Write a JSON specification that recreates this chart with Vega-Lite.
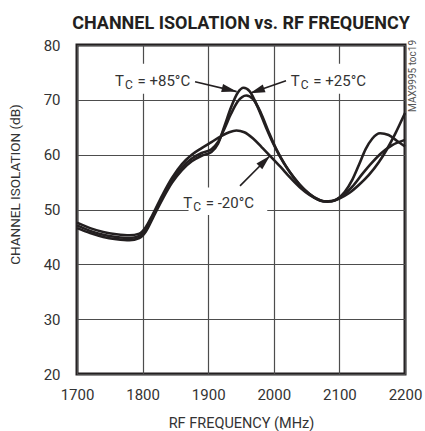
{
  "$schema": "https://vega.github.io/schema/vega-lite/v6.json",
  "width": 328,
  "height": 329,
  "autosize": {"type": "none"},
  "padding": {"left": 77, "top": 45, "right": 20, "bottom": 57},
  "background": "white",
  "config": {
    "font": "Roboto",
    "view": {"stroke": "#231f20", "strokeWidth": 3}
  },
  "title": {
    "text": "CHANNEL ISOLATION vs. RF FREQUENCY",
    "font": "Roboto",
    "fontSize": 18,
    "fontWeight": "bold",
    "color": "#231f20",
    "anchor": "middle",
    "frame": "group",
    "baseline": "alphabetic",
    "offset": 11,
    "dy": 20
  },
  "datasets": {
    "curves": [
      {"temp": "-20", "freq": 1700, "db": 47.6}, {"temp": "-20", "freq": 1720, "db": 46.6}, {"temp": "-20", "freq": 1740, "db": 45.9}, {"temp": "-20", "freq": 1760, "db": 45.5}, {"temp": "-20", "freq": 1780, "db": 45.3}, {"temp": "-20", "freq": 1795, "db": 45.6}, {"temp": "-20", "freq": 1805, "db": 46.8}, {"temp": "-20", "freq": 1815, "db": 49.0}, {"temp": "-20", "freq": 1830, "db": 52.6}, {"temp": "-20", "freq": 1845, "db": 55.8}, {"temp": "-20", "freq": 1860, "db": 58.3}, {"temp": "-20", "freq": 1875, "db": 60.0}, {"temp": "-20", "freq": 1890, "db": 61.2}, {"temp": "-20", "freq": 1905, "db": 62.3}, {"temp": "-20", "freq": 1920, "db": 63.4}, {"temp": "-20", "freq": 1932, "db": 64.1}, {"temp": "-20", "freq": 1943, "db": 64.4}, {"temp": "-20", "freq": 1955, "db": 64.1}, {"temp": "-20", "freq": 1968, "db": 63.0}, {"temp": "-20", "freq": 1982, "db": 61.3}, {"temp": "-20", "freq": 1995, "db": 59.7}, {"temp": "-20", "freq": 2010, "db": 57.8}, {"temp": "-20", "freq": 2025, "db": 55.8}, {"temp": "-20", "freq": 2040, "db": 54.0}, {"temp": "-20", "freq": 2055, "db": 52.6}, {"temp": "-20", "freq": 2070, "db": 51.7}, {"temp": "-20", "freq": 2082, "db": 51.4}, {"temp": "-20", "freq": 2095, "db": 51.8}, {"temp": "-20", "freq": 2108, "db": 53.2}, {"temp": "-20", "freq": 2120, "db": 55.5}, {"temp": "-20", "freq": 2130, "db": 58.2}, {"temp": "-20", "freq": 2140, "db": 61.0}, {"temp": "-20", "freq": 2150, "db": 62.9}, {"temp": "-20", "freq": 2162, "db": 63.9}, {"temp": "-20", "freq": 2175, "db": 63.6}, {"temp": "-20", "freq": 2188, "db": 62.5}, {"temp": "-20", "freq": 2200, "db": 61.5},
      {"temp": "+85", "freq": 1700, "db": 46.6}, {"temp": "+85", "freq": 1720, "db": 45.7}, {"temp": "+85", "freq": 1740, "db": 45.0}, {"temp": "+85", "freq": 1760, "db": 44.6}, {"temp": "+85", "freq": 1780, "db": 44.4}, {"temp": "+85", "freq": 1795, "db": 44.8}, {"temp": "+85", "freq": 1805, "db": 46.0}, {"temp": "+85", "freq": 1815, "db": 48.3}, {"temp": "+85", "freq": 1830, "db": 51.8}, {"temp": "+85", "freq": 1845, "db": 54.9}, {"temp": "+85", "freq": 1860, "db": 57.2}, {"temp": "+85", "freq": 1875, "db": 58.8}, {"temp": "+85", "freq": 1890, "db": 59.8}, {"temp": "+85", "freq": 1905, "db": 60.5}, {"temp": "+85", "freq": 1915, "db": 62.0}, {"temp": "+85", "freq": 1925, "db": 65.3}, {"temp": "+85", "freq": 1935, "db": 68.7}, {"temp": "+85", "freq": 1945, "db": 71.3}, {"temp": "+85", "freq": 1954, "db": 72.2}, {"temp": "+85", "freq": 1963, "db": 71.6}, {"temp": "+85", "freq": 1975, "db": 68.8}, {"temp": "+85", "freq": 1988, "db": 65.0}, {"temp": "+85", "freq": 2000, "db": 61.8}, {"temp": "+85", "freq": 2015, "db": 58.5}, {"temp": "+85", "freq": 2030, "db": 55.9}, {"temp": "+85", "freq": 2045, "db": 53.8}, {"temp": "+85", "freq": 2060, "db": 52.3}, {"temp": "+85", "freq": 2075, "db": 51.5}, {"temp": "+85", "freq": 2088, "db": 51.5}, {"temp": "+85", "freq": 2100, "db": 52.0}, {"temp": "+85", "freq": 2115, "db": 53.0}, {"temp": "+85", "freq": 2130, "db": 54.5}, {"temp": "+85", "freq": 2145, "db": 56.3}, {"temp": "+85", "freq": 2160, "db": 58.6}, {"temp": "+85", "freq": 2172, "db": 60.9}, {"temp": "+85", "freq": 2185, "db": 63.8}, {"temp": "+85", "freq": 2200, "db": 67.6},
      {"temp": "+25", "freq": 1700, "db": 47.1}, {"temp": "+25", "freq": 1720, "db": 46.1}, {"temp": "+25", "freq": 1740, "db": 45.4}, {"temp": "+25", "freq": 1760, "db": 45.0}, {"temp": "+25", "freq": 1780, "db": 44.8}, {"temp": "+25", "freq": 1795, "db": 45.2}, {"temp": "+25", "freq": 1805, "db": 46.4}, {"temp": "+25", "freq": 1815, "db": 48.7}, {"temp": "+25", "freq": 1830, "db": 52.2}, {"temp": "+25", "freq": 1845, "db": 55.3}, {"temp": "+25", "freq": 1860, "db": 57.7}, {"temp": "+25", "freq": 1875, "db": 59.3}, {"temp": "+25", "freq": 1890, "db": 60.3}, {"temp": "+25", "freq": 1905, "db": 61.0}, {"temp": "+25", "freq": 1915, "db": 62.3}, {"temp": "+25", "freq": 1925, "db": 64.8}, {"temp": "+25", "freq": 1935, "db": 67.5}, {"temp": "+25", "freq": 1945, "db": 69.7}, {"temp": "+25", "freq": 1958, "db": 70.8}, {"temp": "+25", "freq": 1968, "db": 70.2}, {"temp": "+25", "freq": 1980, "db": 67.7}, {"temp": "+25", "freq": 1992, "db": 64.2}, {"temp": "+25", "freq": 2003, "db": 61.2}, {"temp": "+25", "freq": 2018, "db": 58.0}, {"temp": "+25", "freq": 2032, "db": 55.6}, {"temp": "+25", "freq": 2047, "db": 53.6}, {"temp": "+25", "freq": 2062, "db": 52.2}, {"temp": "+25", "freq": 2077, "db": 51.5}, {"temp": "+25", "freq": 2090, "db": 51.6}, {"temp": "+25", "freq": 2105, "db": 52.5}, {"temp": "+25", "freq": 2120, "db": 54.2}, {"temp": "+25", "freq": 2135, "db": 56.5}, {"temp": "+25", "freq": 2150, "db": 58.6}, {"temp": "+25", "freq": 2165, "db": 60.4}, {"temp": "+25", "freq": 2180, "db": 61.7}, {"temp": "+25", "freq": 2200, "db": 62.7}
    ],
    "boxes": [
      {"freq": 1750, "freq2": 1880, "db": 71.1, "db2": 76.6},
      {"freq": 2018, "freq2": 2124, "db": 71.1, "db2": 76.6},
      {"freq": 1870, "freq2": 1990, "db": 49.0, "db2": 54.0}
    ],
    "labels": [
      {"freq": 1758, "db": 72.55, "lab": "= +85°C"},
      {"freq": 2026, "db": 72.55, "lab": "= +25°C"},
      {"freq": 1862, "db": 50.2, "lab": "= -20°C"}
    ],
    "arrows": [
      {"freq": 1880, "db": 73.3, "freq2": 1943.4, "db2": 71.5},
      {"freq": 2018.6, "db": 73.5, "freq2": 1963.7, "db2": 71.2},
      {"freq": 1948.5, "db": 54.3, "freq2": 1994.2, "db2": 59.8}
    ],
    "heads": [
      {"freq": 1943.4, "db": 71.5, "ang": 13.5},
      {"freq": 1963.7, "db": 71.2, "ang": 160.7},
      {"freq": 1994.2, "db": 59.8, "ang": 315}
    ],
    "note": [
      {"freq": 2200, "db": 67.8, "txt": "MAX9995 toc19"}
    ]
  },
  "encoding": {
    "x": {
      "field": "freq", "type": "quantitative",
      "scale": {"domain": [1700, 2200], "nice": false, "zero": false},
      "axis": {
        "title": "RF FREQUENCY (MHz)", "values": [1700, 1800, 1900, 2000, 2100, 2200],
        "format": "d", "domain": false, "ticks": false, "grid": true,
        "gridColor": "#4d4d4d", "gridWidth": 1.2, "gridOpacity": 1,
        "labelFontSize": 15, "labelColor": "#333333", "labelPadding": 13, "labelFlush": false,
        "titleFontSize": 14.5, "titleFontWeight": "normal", "titleColor": "#333333",
        "titleBaseline": "alphabetic", "titleY": 53
      }
    },
    "y": {
      "field": "db", "type": "quantitative",
      "scale": {"domain": [20, 80], "nice": false, "zero": false},
      "axis": {
        "title": "CHANNEL ISOLATION (dB)", "values": [20, 30, 40, 50, 60, 70, 80],
        "domain": false, "ticks": false, "grid": true,
        "gridColor": "#4d4d4d", "gridWidth": 1.2, "gridOpacity": 1,
        "labelFontSize": 15, "labelColor": "#333333", "labelPadding": 17,
        "titleFontSize": 13.5, "titleFontWeight": "normal", "titleColor": "#333333",
        "titleAngle": -90, "titleAlign": "center", "titleBaseline": "middle",
        "titleX": -62, "titleY": 139
      }
    }
  },
  "layer": [
    {
      "data": {"name": "boxes"},
      "mark": {"type": "rect", "fill": "white", "stroke": null},
      "encoding": {"x2": {"field": "freq2"}, "y2": {"field": "db2"}}
    },
    {
      "data": {"name": "curves"},
      "mark": {"type": "line", "interpolate": "monotone", "color": "#231f20", "strokeWidth": 2.6},
      "encoding": {"detail": {"field": "temp"}}
    },
    {
      "data": {"name": "arrows"},
      "mark": {"type": "rule", "color": "#231f20", "strokeWidth": 1.6},
      "encoding": {"x2": {"field": "freq2"}, "y2": {"field": "db2"}}
    },
    {
      "data": {"name": "heads"},
      "mark": {"type": "point", "shape": "M0,0 L-2,-0.55 L-2,0.55 Z", "filled": true, "color": "#231f20", "opacity": 1, "size": 225},
      "encoding": {"angle": {"field": "ang", "type": "quantitative", "scale": null}}
    },
    {
      "data": {"name": "labels"},
      "mark": {"type": "text", "text": "T", "align": "left", "baseline": "alphabetic", "fontSize": 15, "color": "#333333"},
      "encoding": {}
    },
    {
      "data": {"name": "labels"},
      "mark": {"type": "text", "text": "C", "align": "left", "baseline": "alphabetic", "fontSize": 12, "dx": 10, "dy": 3, "color": "#333333"},
      "encoding": {}
    },
    {
      "data": {"name": "labels"},
      "mark": {"type": "text", "align": "left", "baseline": "alphabetic", "fontSize": 15, "dx": 22.5, "color": "#333333"},
      "encoding": {"text": {"field": "lab"}}
    },
    {
      "data": {"name": "note"},
      "mark": {"type": "text", "angle": 270, "align": "left", "baseline": "middle", "fontSize": 10, "dy": 8, "color": "#555555"},
      "encoding": {"text": {"field": "txt"}}
    }
  ]
}
